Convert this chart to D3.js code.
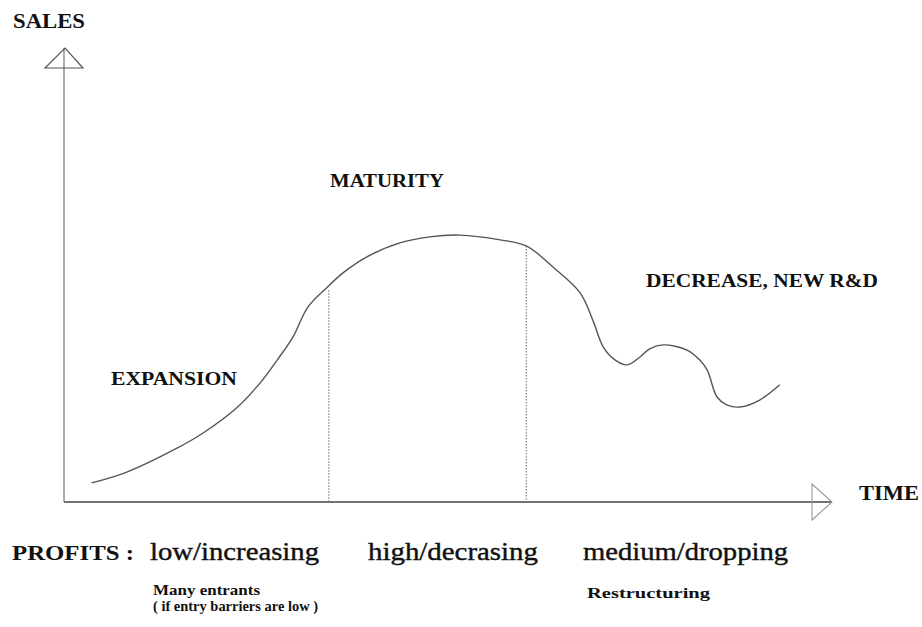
<!DOCTYPE html>
<html>
<head>
<meta charset="utf-8">
<script src="https://cdn.jsdelivr.net/npm/d3@7"></script>
<style>
  body { margin: 0; background: #fff; }
  text { font-family: "Liberation Serif", "Times New Roman", serif; fill: #111; }
</style>
</head>
<body>
<div id="chart"></div>
<script>
// product life cycle: sales over time (arbitrary units 0-100)
const time  = [3.7, 8.4, 15.1, 18.6, 23.1, 26.2, 28.5, 30.6, 32.6, 35.2, 37.3, 40.5, 44.9, 48.9, 52.9, 58.3, 61.8,
               65.4, 69.0, 70.7, 72.1, 73.7, 75.3, 77.0, 78.3, 80.1, 83.3, 85.0, 86.0, 87.3, 88.6, 90.4, 93.0, 95.7];
const sales = [4.4, 6.9, 12.4, 15.9, 21.7, 27.4, 32.7, 38.0, 44.9, 49.5, 52.8, 56.5, 59.7, 61.1, 61.5, 60.4, 59.0,
               54.1, 48.2, 41.9, 35.7, 32.7, 31.6, 33.4, 35.3, 36.2, 35.0, 32.7, 30.4, 24.2, 22.4, 21.9, 23.5, 27.0];

// phase boundaries (time, sales where the dotted line meets the curve)
const boundaryTime  = [35.4, 61.8];
const boundarySales = [48.8, 59.0];

const phases  = ["EXPANSION", "MATURITY", "DECREASE, NEW R&D"];
const profits = ["low/increasing", "high/decrasing", "medium/dropping"];
const notes   = [["Many entrants", "( if entry barriers are low )"], [], ["Restructuring"]];

const width = 922, height = 627;

const svg = d3.select("#chart")
  .append("svg")
    .attr("width", width)
    .attr("height", height);

const xScale = d3.scaleLinear().domain([0, 100]).range([64, 812]);
const yScale = d3.scaleLinear().domain([0, 100]).range([502, 68]);

const axisColor = "#444";
const x0 = xScale(0), y0 = yScale(0);

// axes with open triangle heads
svg.append("line")
  .attr("x1", x0).attr("y1", y0)
  .attr("x2", xScale(100) + 20).attr("y2", y0)
  .attr("stroke", axisColor).attr("stroke-width", 1.6);

svg.append("line")
  .attr("x1", x0).attr("y1", y0)
  .attr("x2", x0).attr("y2", yScale(100) - 20)
  .attr("stroke", "#666").attr("stroke-width", 1.1);

svg.append("path")
  .attr("d", `M${x0 - 19},${yScale(100)} L${x0 + 19},${yScale(100)} L${x0 + 1},${yScale(100) - 20} Z`)
  .attr("fill", "none").attr("stroke", "#555").attr("stroke-width", 1.2);

svg.append("path")
  .attr("d", `M${xScale(100)},${y0 - 18} L${xScale(100)},${y0 + 18} L${xScale(100) + 20},${y0} Z`)
  .attr("fill", "none").attr("stroke", "#999").attr("stroke-width", 1.1);

// dotted phase boundaries
svg.selectAll(".boundary")
  .data(boundaryTime)
  .enter()
  .append("line")
    .attr("class", "boundary")
    .attr("x1", d => xScale(d)).attr("x2", d => xScale(d))
    .attr("y1", (d, i) => yScale(boundarySales[i]))
    .attr("y2", y0)
    .attr("stroke", "#777")
    .attr("stroke-width", 1.1)
    .attr("stroke-dasharray", "1.5 1.5");

// sales curve
const curveData = time.map((t, i) => ({ t: t, s: sales[i] }));
svg.append("path")
  .datum(curveData)
  .attr("fill", "none")
  .attr("stroke", "#555")
  .attr("stroke-width", 1.4)
  .attr("d", d3.line()
    .x(d => xScale(d.t))
    .y(d => yScale(d.s))
    .curve(d3.curveCatmullRom.alpha(0.5)));

// labels
function label(txt, x, y, size, len, weight) {
  const t = svg.append("text")
    .attr("x", x).attr("y", y)
    .attr("font-size", size)
    .attr("font-weight", weight || "normal")
    .attr("textLength", len)
    .attr("lengthAdjust", "spacingAndGlyphs")
    .text(txt);
  return t;
}

label("SALES", 13, 28, 20, 72, "bold");
label("TIME", 859, 500, 20, 60, "bold");

const phasePos = [[111, 385, 126], [330, 187, 114], [646, 287, 232]];
phases.forEach((p, i) => label(p, phasePos[i][0], phasePos[i][1], 19, phasePos[i][2], "bold"));

label("PROFITS :", 12, 560, 20, 122, "bold");

const profitPos = [[150, 560, 169], [368, 560, 170], [583, 560, 205]];
profits.forEach((p, i) => label(p, profitPos[i][0], profitPos[i][1], 25, profitPos[i][2])
  .attr("stroke", "#111").attr("stroke-width", 0.4));

const notePos = [[153, 595], [368, 595], [587, 598]];
const noteLen = [[107, 165], [], [123]];
notes.forEach((lines, i) => {
  lines.forEach((ln, j) => label(ln, notePos[i][0], notePos[i][1] + j * 16, 15, noteLen[i][j], "bold"));
});
</script>
</body>
</html>
